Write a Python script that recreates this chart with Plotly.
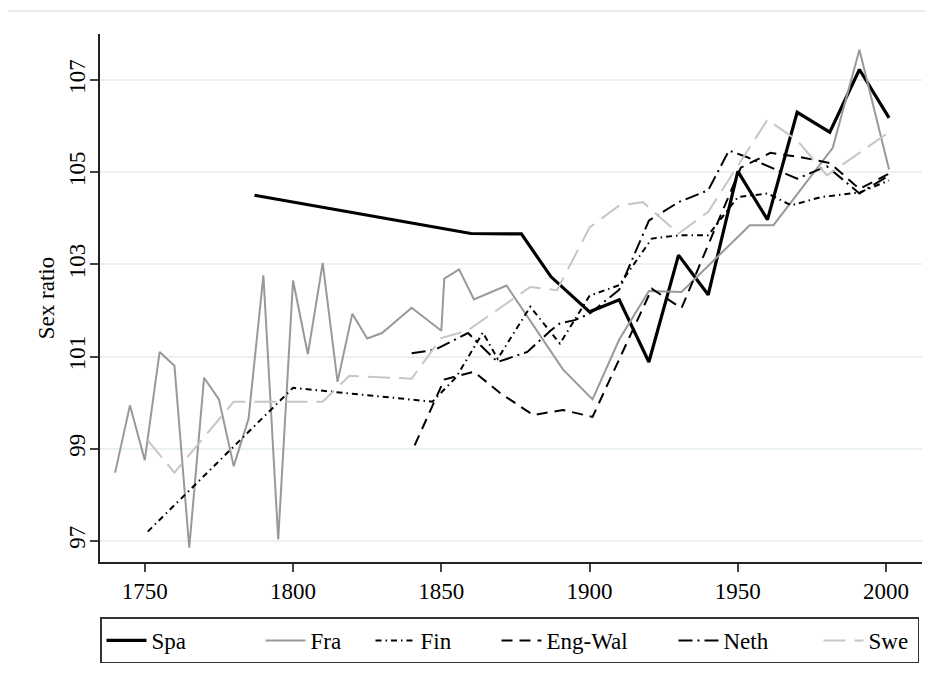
import plotly.graph_objects as go

# ---------------------------------------------------
# data (year, sex ratio)
# ---------------------------------------------------

spa_years = [1787, 1860, 1877, 1887, 1900, 1910, 1920, 1930, 1940, 1950, 1960, 1970, 1981, 1991, 2001]
spa_vals = [104.5, 103.67, 103.66, 102.73, 101.97, 102.23, 100.88, 103.2, 102.34, 105.02, 103.97, 106.3, 105.87, 107.23, 106.18]

fra_years = [1740, 1745, 1750, 1755, 1760, 1765, 1770, 1775, 1780, 1785, 1790, 1795, 1800, 1805, 1810,
             1815, 1820, 1825, 1830, 1840, 1850, 1851, 1856, 1861, 1872, 1891, 1901, 1910, 1920, 1931,
             1954, 1962, 1982, 1991, 2001]
fra_vals = [98.48, 99.94, 98.75, 101.1, 100.8, 96.85, 100.54, 100.07, 98.62, 99.65, 102.76, 97.03, 102.65, 101.05, 103.03,
            100.45, 101.93, 101.39, 101.51, 102.06, 101.56, 102.69, 102.89, 102.24, 102.54, 100.72, 100.07, 101.37, 102.42, 102.4,
            103.85, 103.85, 105.53, 107.66, 105.06]

fin_years = [1751, 1800, 1847, 1855, 1864, 1869, 1880, 1890, 1900, 1910, 1921, 1930, 1940, 1950, 1960, 1968, 1978, 1991, 2001]
fin_vals = [97.2, 100.32, 100.02, 100.55, 101.52, 100.95, 102.08, 101.28, 102.32, 102.55, 103.56, 103.63, 103.63, 104.46, 104.54, 104.28, 104.46, 104.56, 104.82]

engwal_years = [1841, 1851, 1861, 1870, 1881, 1891, 1901, 1921, 1931, 1951, 1961, 1971, 1981, 1991, 2001]
engwal_vals = [99.07, 100.5, 100.67, 100.2, 99.73, 99.84, 99.69, 102.47, 102.05, 105.1, 105.42, 105.33, 105.2, 104.64, 104.97]

neth_years = [1840, 1848, 1859, 1869, 1879, 1887, 1890, 1895, 1900, 1910, 1920, 1930, 1940, 1947, 1953, 1970, 1980, 1991, 2001]
neth_vals = [101.07, 101.15, 101.51, 100.88, 101.1, 101.57, 101.72, 101.79, 101.93, 102.45, 103.95, 104.35, 104.61, 105.47, 105.33, 104.86, 105.13, 104.54, 104.93]

swe_years = [1751, 1760, 1780, 1810, 1819, 1840, 1850, 1859, 1880, 1889, 1900, 1910, 1918, 1930, 1940, 1960, 1970, 1980, 1991, 2001]
swe_vals = [99.18, 98.48, 100.02, 100.02, 100.58, 100.52, 101.4, 101.57, 102.51, 102.44, 103.8, 104.28, 104.35, 103.67, 104.14, 106.14, 105.69, 104.93, 105.42, 105.87]

x_ticks = [1750, 1800, 1850, 1900, 1950, 2000]
y_ticks = [97, 99, 101, 103, 105, 107]

FONT = 'Liberation Serif'
TXT = dict(family=FONT, size=23, color='#000000')

# name, x, y, line style, legend entry width
series = [
    ('Spa', spa_years, spa_vals, dict(color='#000000', width=3.2, dash='solid'), 104),
    ('Fra', fra_years, fra_vals, dict(color='#999999', width=2, dash='solid'), 55),
    ('Fin', fin_years, fin_vals, dict(color='#000000', width=2, dash='6px,4px,1.5px,4px'), 71),
    ('Eng-Wal', engwal_years, engwal_vals, dict(color='#000000', width=2, dash='11px,7px'), 122),
    ('Neth', neth_years, neth_vals, dict(color='#000000', width=2, dash='14px,5px,2px,5px'), 90),
    ('Swe', swe_years, swe_vals, dict(color='#c6c6c6', width=2, dash='22px,9px'), 44),
]

fig = go.Figure()

for name, xs, ys, line, lw in series:
    fig.add_trace(
        go.Scatter(x=xs, y=ys, mode='lines', name=name, line=line, legendwidth=lw)
    )

axis_common = dict(
    zeroline=False,
    showline=True,
    linecolor='#222222',
    linewidth=1.5,
    ticks='outside',
    ticklen=8,
    tickwidth=1.5,
    tickcolor='#444444',
    tickfont=TXT,
    automargin=False,
)

# page body has an 8px margin, so the figure is shrunk by that much
fig.update_layout(
    width=925,
    height=674,
    paper_bgcolor='white',
    plot_bgcolor='white',
    font=TXT,
    margin=dict(l=92, r=11, t=26, b=120, autoexpand=False),
    showlegend=True,
    legend=dict(
        orientation='h',
        x=0, xanchor='left',
        y=-0.105, yanchor='top',
        bordercolor='#333333',
        borderwidth=1.5,
        itemwidth=40,
        font=TXT,
        tracegroupgap=0,
    ),
    xaxis=dict(
        range=[1734.9, 2012.1],
        tickvals=x_ticks,
        showgrid=False,
        **axis_common,
    ),
    yaxis=dict(
        range=[96.54, 108.0],
        tickvals=y_ticks,
        tickangle=-90,
        ticklabelstandoff=-4,
        showgrid=True,
        gridcolor='#e9f1f3',
        gridwidth=1.5,
        title=dict(text='Sex ratio', standoff=4, font=TXT),
        **axis_common,
    ),
    # faint outer graph-region frame
    shapes=[dict(
        type='rect', xref='paper', yref='paper',
        x0=-0.1132, x1=1.2, y0=-0.5, y1=1.0436,
        line=dict(color='#e6eef1', width=2),
        fillcolor='rgba(0,0,0,0)', layer='below',
    )],
)

fig.write_html("out.html")
